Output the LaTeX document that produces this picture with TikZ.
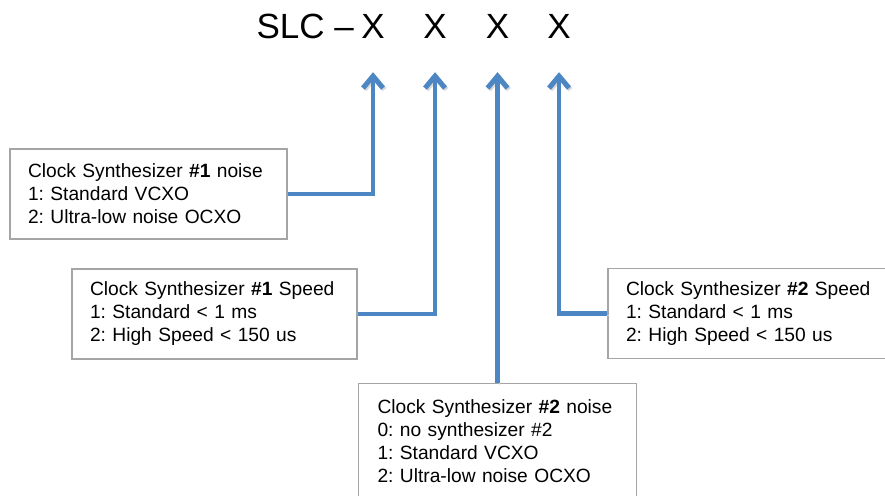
\documentclass[tikz,border=0pt]{standalone}
\usepackage{fontspec}
\setmainfont{Liberation Sans}
\frenchspacing
\usetikzlibrary{arrows.meta}
\definecolor{linkblue}{RGB}{76,135,196}
\definecolor{boxgray}{RGB}{165,165,165}

\begin{document}
\begin{tikzpicture}[
x=1pt, y=-1pt,
box/.style={
draw=boxgray,
line width=1.2pt,
fill=white,
align=left,
inner xsep=18pt,
minimum height=90pt,
font=\fontsize{19.2}{23}\selectfont
},
digit/.style={
inner sep=0pt,
anchor=base,
font=\fontsize{35}{40}\selectfont
},
link/.style={
-{Straight Barb[length=12pt,width=20pt,line width=5pt]},
draw=linkblue,
line width=4.5pt,
shorten >=34pt,
preaction={draw=black!15, transform canvas={shift={(1.5pt,-1.5pt)}}}
}
]

\useasboundingbox (0,0) rectangle (885,495);
\clip (0,0) rectangle (885,495);

\node[digit, anchor=base east] (slc) at (354,38) {SLC –};
\node[digit] (x1) at (373,38) {X};
\node[digit] (x2) at (435,38) {X};
\node[digit] (x3) at (497.5,38) {X};
\node[digit] (x4) at (559,38) {X};

\node[box, text width=241pt] (noise1) at (148.5,194)
{Clock Synthesizer \textbf{\#1} noise\\1: Standard VCXO\\2: Ultra-low noise OCXO};

\node[box, text width=249pt] (speed1) at (214.5,314)
{Clock Synthesizer \textbf{\#1} Speed\\1: Standard < 1 ms\\2: High Speed < 150 us};

\node[box, text width=249pt] (speed2) at (750.5,313.5)
{Clock Synthesizer \textbf{\#2} Speed\\1: Standard < 1 ms\\2: High Speed < 150 us};

\node[box, text width=240pt, inner xsep=19pt, inner ysep=10pt,
minimum height=0pt, text height=20pt, text depth=100pt,
anchor=north] (noise2) at (497.5,383)
{Clock Synthesizer \textbf{\#2} noise\\0: no synthesizer \#2\\1: Standard VCXO\\2: Ultra-low noise OCXO};

\draw[link] (noise1.east) -| (x1.south);

\draw[link] (speed1.east) -| (x2.south);

\draw[link] (noise2.north) -- (x3.south);

\draw[link] (speed2.west) -| (x4.south);

\end{tikzpicture}
\end{document}
